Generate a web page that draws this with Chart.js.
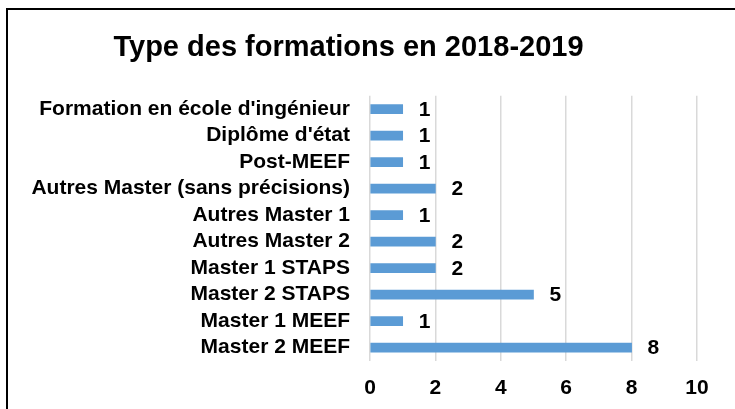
<!DOCTYPE html>
<html>
<head>
<meta charset="utf-8">
<script src="https://cdn.jsdelivr.net/npm/chart.js@4"></script>
<style>
  html, body { margin: 0; padding: 0; background: #ffffff; }
  #wrap { position: relative; width: 735px; height: 409px; overflow: hidden; background: #ffffff; }
  #frame { position: absolute; left: 6px; top: 8px; width: 800px; height: 500px;
           border-left: 2px solid #000; border-top: 2px solid #000; }
  #c { position: absolute; left: 0; top: 0; }
</style>
</head>
<body>
<div id="wrap">
  <div id="frame"></div>
  <canvas id="c" width="735" height="409"></canvas>
</div>
<script>
const titleText = "Type des formations en 2018-2019";
const categories = [
  "Formation en école d'ingénieur",
  "Diplôme d'état",
  "Post-MEEF",
  "Autres Master (sans précisions)",
  "Autres Master 1",
  "Autres Master 2",
  "Master 1 STAPS",
  "Master 2 STAPS",
  "Master 1 MEEF",
  "Master 2 MEEF"
];
const values = [1, 1, 1, 2, 1, 2, 2, 5, 1, 8];
const xTicks = [0, 2, 4, 6, 8, 10];

const FONT = "'Liberation Sans', Arial, sans-serif";

const valueLabels = {
  id: 'valueLabels',
  afterDatasetsDraw(chart) {
    const ctx = chart.ctx;
    const meta = chart.getDatasetMeta(0);
    ctx.save();
    ctx.font = "bold 21px " + FONT;
    ctx.fillStyle = "#000";
    ctx.textAlign = "left";
    ctx.textBaseline = "middle";
    meta.data.forEach((bar, i) => {
      ctx.fillText(String(values[i]), bar.x + 16, bar.y + 1);
    });
    ctx.restore();
  }
};

new Chart(document.getElementById('c'), {
  type: 'bar',
  data: {
    labels: categories,
    datasets: [{
      data: values,
      backgroundColor: '#5B9BD5',
      borderWidth: 0,
      barThickness: 9,
      categoryPercentage: 1,
      barPercentage: 1
    }]
  },
  options: {
    indexAxis: 'y',
    responsive: false,
    animation: false,
    devicePixelRatio: 1,
    layout: { padding: { left: 0, right: 38, top: 0, bottom: -7 } },
    plugins: {
      legend: { display: false },
      tooltip: { enabled: false },
      title: {
        display: true,
        text: titleText,
        color: '#000',
        font: { family: FONT, size: 29, weight: 'bold' },
        padding: { top: 31, bottom: 30 }
      }
    },
    scales: {
      x: {
        min: 0,
        max: 10,
        afterBuildTicks(scale) {
          scale.ticks = xTicks.map(v => ({ value: v }));
        },
        grid: { color: '#d9d9d9', lineWidth: 1.5, drawTicks: false },
        border: { display: false },
        ticks: {
          color: '#000',
          padding: 15,
          font: { family: FONT, size: 21, weight: 'bold' }
        }
      },
      y: {
        grid: { display: false, drawTicks: false },
        border: { display: false },
        afterFit(scale) { scale.width = 370; },
        ticks: {
          color: '#000',
          padding: 20,
          autoSkip: false,
          font: { family: FONT, size: 21, weight: 'bold' }
        }
      }
    }
  },
  plugins: [valueLabels]
});
</script>
</body>
</html>
